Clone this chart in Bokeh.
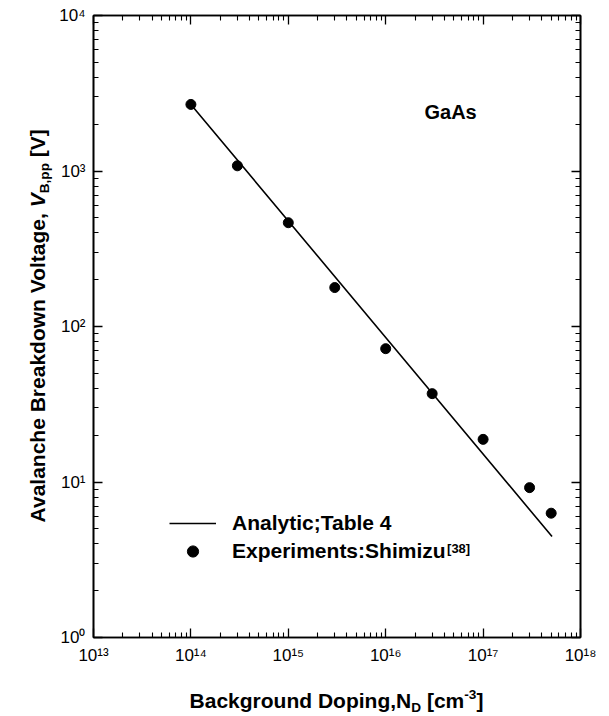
import math
from bokeh.plotting import figure
from bokeh.layouts import row, column
from bokeh.models import (Label, Legend, LegendItem, LogAxis, CustomJSTickFormatter,
                          FixedTicker, Div)
from bokeh.embed import file_html
from bokeh.resources import INLINE

# ---------------- data ----------------
doping_analytic = [1.0e14, 1.0e16, 5.1e17]          # cm^-3
vbd_analytic = [2680.0, 85.0, 4.46]                 # V

doping_exp = [1e14, 3e14, 1e15, 3e15, 1e16, 3e16, 1e17, 3e17, 5e17]
vbd_exp = [2680.0, 1080.0, 465.0, 178.0, 72.0, 37.0, 18.8, 9.2, 6.3]

x_tick_values = [1e13, 1e14, 1e15, 1e16, 1e17, 1e18]
y_tick_values = [1e0, 1e1, 1e2, 1e3, 1e4]

legend_labels = ["Analytic;Table 4", "Experiments:Shimizu"]
legend_sup = "[38]"
material = "GaAs"

# ---------------- layout (page pixels) ----------------
W, H = 609, 716
YDIV_W = 52            # column holding the y title
XDIV_H = 40            # row holding the x title
L, R, T, B = 93, 580, 15, 637      # frame in page pixels
X0, X1 = 1e13, 1e18
Y0, Y1 = 1.0, 1e4
FONT = "Liberation Sans"


def dx(px):
    return 10 ** (math.log10(X0) + (px - L) / (R - L) * (math.log10(X1) - math.log10(X0)))


def dy(py):
    return 10 ** (math.log10(Y0) + (B - py) / (B - T) * (math.log10(Y1) - math.log10(Y0)))


# Arial/Liberation Sans Bold advance widths (per 1000 em)
AW = {' ': 278, ',': 278, ';': 333, ':': 333, '[': 333, ']': 333, '-': 333}
for d in "0123456789":
    AW[d] = 556
AW.update(dict(A=722, B=722, C=722, D=722, E=667, F=611, G=778, H=722, I=278, J=556,
               K=722, L=611, M=833, N=722, O=778, P=667, Q=778, R=722, S=667, T=611,
               U=722, V=667, W=944, X=667, Y=667, Z=611))
AW.update(dict(a=556, b=611, c=556, d=611, e=556, f=333, g=611, h=611, i=278, j=278,
               k=556, l=278, m=889, n=611, o=611, p=611, q=611, r=389, s=556, t=333,
               u=611, v=556, w=778, x=556, y=556, z=500))


def tw(s, size):
    return sum(AW.get(c, 556) for c in s) / 1000.0 * size


PW, PH = W - YDIV_W, H - XDIV_H
p = figure(width=PW, height=PH, x_axis_type="log", y_axis_type="log",
           x_range=(X0, X1), y_range=(Y0, Y1), output_backend="svg",
           toolbar_location=None, min_border_left=L - YDIV_W, min_border_right=W - R,
           min_border_top=T, min_border_bottom=PH - B,
           background_fill_color="white", border_fill_color="white")
p.xgrid.visible = False
p.ygrid.visible = False
p.outline_line_color = "black"
p.outline_line_width = 1.6

fmt_code = r"""
const s = {"0":"\u2070","1":"\u00b9","2":"\u00b2","3":"\u00b3","4":"\u2074","5":"\u2075",
           "6":"\u2076","7":"\u2077","8":"\u2078","9":"\u2079","-":"\u207b"};
const e = Math.round(Math.log10(tick));
return "10" + String(e).split("").map(c => s[c]).join("");
"""


def minor_for(majors):
    out = []
    for m in majors[:-1]:
        out += [m * k for k in range(2, 10)]
    return out


def style_axis(ax, show_labels):
    ax.axis_line_color = "black"
    ax.axis_line_width = 1.6
    ax.major_tick_in = 9
    ax.major_tick_out = 0
    ax.minor_tick_in = 5
    ax.minor_tick_out = 0
    ax.major_tick_line_color = "black"
    ax.minor_tick_line_color = "black"
    ax.major_tick_line_width = 1.3
    ax.minor_tick_line_width = 1.1
    if show_labels:
        ax.formatter = CustomJSTickFormatter(code=fmt_code)
        ax.major_label_text_font = FONT
        ax.major_label_text_font_size = "17px"
        ax.major_label_text_color = "black"
        ax.major_label_standoff = 8
    else:
        ax.major_label_text_font_size = "0px"
        ax.major_label_standoff = 0
        ax.formatter = CustomJSTickFormatter(code="return '';")


p.xaxis.ticker = FixedTicker(ticks=x_tick_values, minor_ticks=minor_for(x_tick_values))
p.yaxis.ticker = FixedTicker(ticks=y_tick_values, minor_ticks=minor_for(y_tick_values))
style_axis(p.xaxis[0], True)
style_axis(p.yaxis[0], True)

top = LogAxis(ticker=FixedTicker(ticks=x_tick_values, minor_ticks=minor_for(x_tick_values)))
right = LogAxis(ticker=FixedTicker(ticks=y_tick_values, minor_ticks=minor_for(y_tick_values)))
style_axis(top, False)
style_axis(right, False)
p.add_layout(top, "above")
p.add_layout(right, "right")

# ---------------- data marks ----------------
r_line = p.line(doping_analytic, vbd_analytic, line_color="black", line_width=1.6)
r_pts = p.scatter(doping_exp, vbd_exp, size=10, color="black")

# ---------------- legend ----------------
LEG_FS = 21
legend = Legend(items=[LegendItem(label=legend_labels[0], renderers=[r_line]),
                       LegendItem(label=legend_labels[1], renderers=[r_pts])],
                location=(76, 72), padding=0, margin=0, spacing=0,
                glyph_width=47, glyph_height=28, label_height=28, label_standoff=16,
                label_text_font=FONT, label_text_font_style="bold",
                label_text_font_size=f"{LEG_FS}px", label_text_color="black",
                border_line_color=None, background_fill_alpha=0)
p.add_layout(legend)

label_x0 = L + 76 + 47 + 16
sup_x = label_x0 + tw(legend_labels[1], LEG_FS) + 1
p.add_layout(Label(x=dx(sup_x), y=dy(548), text=legend_sup, text_font=FONT,
                   text_font_style="bold", text_font_size="13px", text_color="black",
                   text_align="left", text_baseline="alphabetic"))

p.add_layout(Label(x=dx(424), y=dy(111), text=material, text_font=FONT,
                   text_font_style="bold", text_font_size="20px", text_color="black",
                   text_align="left", text_baseline="alphabetic"))

# ---------------- axis titles (HTML, with real sub/superscripts) ----------------
TF = 21
BASE_OFF = 0.8465 * TF      # baseline offset from top of a line box of height 1em
title_font = (f"font-family:Liberation Sans,Arial,sans-serif;font-weight:bold;"
              f"font-size:{TF}px;line-height:{TF}px;color:black;white-space:nowrap;")
sub_css = "font-size:0.65em;position:relative;top:4px;line-height:0;"
sup_css = "font-size:0.65em;position:relative;top:-9px;line-height:0;"

x_title_html = (f'Background Doping,N<span style="{sub_css}">D</span> [cm'
                f'<span style="{sup_css}">-3</span>]')
y_title_html = (f'Avalanche Breakdown Voltage, <i>V</i><span style="{sub_css}">B,pp</span> [V]')

x_center_local = (L + R) / 2 - YDIV_W
x_base_local = 708 - PH
xdiv_html = (f'<div style="position:relative;width:{PW}px;height:{XDIV_H}px;overflow:visible;">'
             f'<div style="position:absolute;left:0px;top:{x_base_local - BASE_OFF:.1f}px;'
             f'width:{2 * x_center_local:.1f}px;text-align:center;{title_font}">'
             f'{x_title_html}</div></div>')

y_center = (T + B) / 2
y_base_x = 45
ydiv_html = (f'<div style="position:relative;width:{YDIV_W}px;height:{H}px;overflow:visible;">'
             f'<div style="position:absolute;left:{y_base_x}px;top:{y_center - BASE_OFF:.1f}px;'
             f'transform-origin:0px {BASE_OFF:.1f}px;transform:rotate(-90deg) translateX(-50%);'
             f'{title_font}">{y_title_html}</div></div>')

ydiv = Div(text=ydiv_html, width=YDIV_W, height=H, margin=0)
xdiv = Div(text=xdiv_html, width=PW, height=XDIV_H, margin=0)

layout = row(ydiv, column(p, xdiv, spacing=0), spacing=0)

open("out.html", "w").write(file_html(layout, INLINE))
